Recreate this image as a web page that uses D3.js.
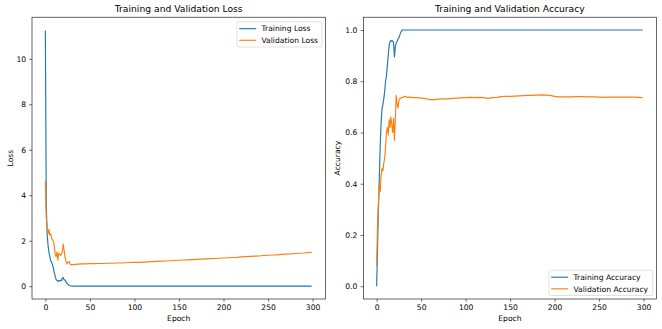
<!DOCTYPE html>
<html><head><meta charset="utf-8">
<script src="https://cdn.jsdelivr.net/npm/d3@7"></script>
<style>
html,body{margin:0;padding:0;background:#fff;}
svg{display:block;font-family:"DejaVu Sans",sans-serif;}
</style></head>
<body>
<svg id="c" width="662" height="329"></svg>
<script>
// Epochs sampled: every epoch 0..40, then every 5 epochs, then the last epoch
const epochs = [0,1,2,3,4,5,6,7,8,9,10,11,12,13,14,15,16,17,18,19,20,21,22,23,24,25,26,27,28,29,30,31,32,33,34,35,36,37,38,39,40,
  45,50,55,60,65,70,75,80,85,90,95,100,105,110,115,120,125,130,135,140,145,150,155,160,165,170,175,180,185,190,195,200,
  205,210,215,220,225,230,235,240,245,250,255,260,265,270,275,280,285,290,295,299];

const trainLoss = [11.25,3.6,2.3,1.8,1.5,1.3,1.12,1.05,0.95,0.8,0.6,0.45,0.3,0.25,0.22,0.25,0.22,0.26,0.24,0.36,0.38,0.27,0.28,0.2,0.14,0.1,0.05,0.03,0.02,0.01,0.008,
  0.006,0.005,0.005,0.004,0.004,0.004,0.003,0.003,0.003,0.003,
  0.003,0.003,0.003,0.002,0.002,0.002,0.002,0.002,0.002,0.002,0.002,0.002,0.002,0.001,0.001,0.001,0.001,0.001,0.001,0.001,0.001,0.001,0.001,0.001,0.001,0.001,
  0.001,0.001,0.001,0.001,0.001,0.001,0.001,0.001,0.001,0.001,0.001,0.001,0.001,0.001,0.001,0.001,0.001,0.001,0.001,0.001,0.001,0.001,0.001,0.001,0.001,0.001];

const valLoss = [4.65,3.0,2.6,2.3,2.5,2.25,2.3,2.1,2.05,1.95,1.8,1.4,1.3,1.5,1.15,1.45,1.4,1.35,1.4,1.5,1.85,1.6,1.3,1.1,0.98,1.06,1.05,1.08,0.96,0.95,0.94,
  0.95,0.95,0.96,0.96,0.96,0.97,0.97,0.97,0.97,0.98,
  0.98,0.99,0.99,1.0,1.0,1.01,1.01,1.02,1.02,1.03,1.04,1.05,1.05,1.06,1.07,1.08,1.09,1.1,1.11,1.12,1.13,1.14,1.15,1.16,1.17,1.18,1.19,1.2,1.21,1.22,1.23,1.24,
  1.25,1.26,1.27,1.29,1.3,1.31,1.32,1.33,1.35,1.36,1.37,1.38,1.4,1.41,1.42,1.44,1.45,1.46,1.48,1.49];

const trainAcc = [0.0,0.15,0.3,0.42,0.55,0.64,0.69,0.71,0.73,0.76,0.8,0.82,0.86,0.9,0.94,0.955,0.96,0.955,0.958,0.95,0.895,0.935,0.95,0.955,0.965,0.97,0.98,0.99,0.997,1.0,1.0,
  1.0,1.0,1.0,1.0,1.0,1.0,1.0,1.0,1.0,1.0,
  1.0,1.0,1.0,1.0,1.0,1.0,1.0,1.0,1.0,1.0,1.0,1.0,1.0,1.0,1.0,1.0,1.0,1.0,1.0,1.0,1.0,1.0,1.0,1.0,1.0,1.0,1.0,1.0,1.0,1.0,1.0,1.0,
  1.0,1.0,1.0,1.0,1.0,1.0,1.0,1.0,1.0,1.0,1.0,1.0,1.0,1.0,1.0,1.0,1.0,1.0,1.0,1.0];

const valAcc = [0.08,0.24,0.33,0.4,0.37,0.43,0.46,0.45,0.48,0.5,0.54,0.6,0.62,0.59,0.65,0.62,0.66,0.63,0.6,0.655,0.57,0.65,0.745,0.71,0.695,0.725,0.73,0.735,0.735,0.737,0.738,
  0.74,0.741,0.739,0.737,0.738,0.738,0.737,0.738,0.737,0.736,
  0.736,0.734,0.732,0.728,0.728,0.73,0.731,0.731,0.733,0.734,0.735,0.736,0.737,0.736,0.737,0.736,0.733,0.736,0.737,0.74,0.741,0.741,0.742,0.743,0.744,0.745,0.745,0.746,0.747,0.746,0.745,0.741,
  0.739,0.739,0.739,0.739,0.74,0.74,0.739,0.739,0.739,0.738,0.737,0.738,0.738,0.738,0.738,0.738,0.738,0.738,0.737,0.735];

const xTicks = [0,50,100,150,200,250,300];
const lossTicks = [0,2,4,6,8,10];
const accTicks = [0.0,0.2,0.4,0.6,0.8,1.0];

const C1 = "#1f77b4", C2 = "#ff7f0e";
const svg = d3.select("#c");
const FS = 7.6;

function panel(opt){
  const g = svg.append("g");
  const x = d3.scaleLinear().domain([-15,314.5]).range([opt.left, opt.right]);
  const y = d3.scaleLinear().domain(opt.yDomain).range([opt.bottom, opt.top]);

  const line = d3.line().x((d,i)=>x(epochs[i])).y(d=>y(d));
  g.append("path").attr("d", line(opt.s1)).attr("fill","none").attr("stroke",C1).attr("stroke-width",1.15).attr("stroke-linejoin","round");
  g.append("path").attr("d", line(opt.s2)).attr("fill","none").attr("stroke",C2).attr("stroke-width",1.15).attr("stroke-linejoin","round");

  // frame
  g.append("rect").attr("x",opt.left).attr("y",opt.top).attr("width",opt.right-opt.left).attr("height",opt.bottom-opt.top)
    .attr("fill","none").attr("stroke","#000").attr("stroke-width",0.6);

  const xa = g.append("g").attr("transform",`translate(0,${opt.bottom})`)
    .call(d3.axisBottom(x).tickValues(xTicks).tickSize(2.7).tickPadding(2.6).tickFormat(d3.format("d")));
  const ya = g.append("g").attr("transform",`translate(${opt.left},0)`)
    .call(d3.axisLeft(y).tickValues(opt.yTicks).tickSize(2.7).tickPadding(3.2).tickFormat(opt.yFmt));
  [xa,ya].forEach(a=>{
    a.select(".domain").remove();
    a.selectAll("line").attr("stroke","#000").attr("stroke-width",0.6);
    a.selectAll("text").attr("font-size",FS).attr("font-family","DejaVu Sans").attr("fill","#000");
  });

  const cx = (opt.left+opt.right)/2;
  g.append("text").attr("x",cx).attr("y",12).attr("text-anchor","middle").attr("font-size",9.2).text(opt.title);
  g.append("text").attr("x",cx).attr("y",321.3).attr("text-anchor","middle").attr("font-size",FS).text("Epoch");
  g.append("text").attr("transform",`translate(${opt.ylabX},${(opt.top+opt.bottom)/2}) rotate(-90)`)
    .attr("text-anchor","middle").attr("font-size",FS).text(opt.ylab);

  // legend
  const L = opt.legend;
  g.append("rect").attr("x",L.x).attr("y",L.y).attr("width",L.w).attr("height",L.h).attr("rx",1.5)
    .attr("fill","#fff").attr("fill-opacity",0.8).attr("stroke","#cccccc").attr("stroke-width",0.6);
  opt.names.forEach((n,i)=>{
    const yy = L.y + 7 + i*11.6;
    g.append("line").attr("x1",L.x+2.2).attr("x2",L.x+19.2).attr("y1",yy).attr("y2",yy)
      .attr("stroke",i?C2:C1).attr("stroke-width",1.15);
    g.append("text").attr("x",L.x+24.5).attr("y",yy+2.7).attr("font-size",FS).text(n);
  });
}

panel({left:32,right:325.5,top:17.2,bottom:299,yDomain:[-0.563,11.83],yTicks:lossTicks,yFmt:d3.format("d"),
  s1:trainLoss,s2:valLoss,title:"Training and Validation Loss",ylab:"Loss",ylabX:13.3,
  names:["Training Loss","Validation Loss"],legend:{x:237,y:21.7,w:85,h:25.3}});
panel({left:363.3,right:656.5,top:17.2,bottom:299,yDomain:[-0.05,1.05],yTicks:accTicks,yFmt:d3.format(".1f"),
  s1:trainAcc,s2:valAcc,title:"Training and Validation Accuracy",ylab:"Accuracy",ylabX:339.5,
  names:["Training Accuracy","Validation Accuracy"],legend:{x:549,y:270.2,w:103.7,h:25.3}});
</script>
</body></html>
